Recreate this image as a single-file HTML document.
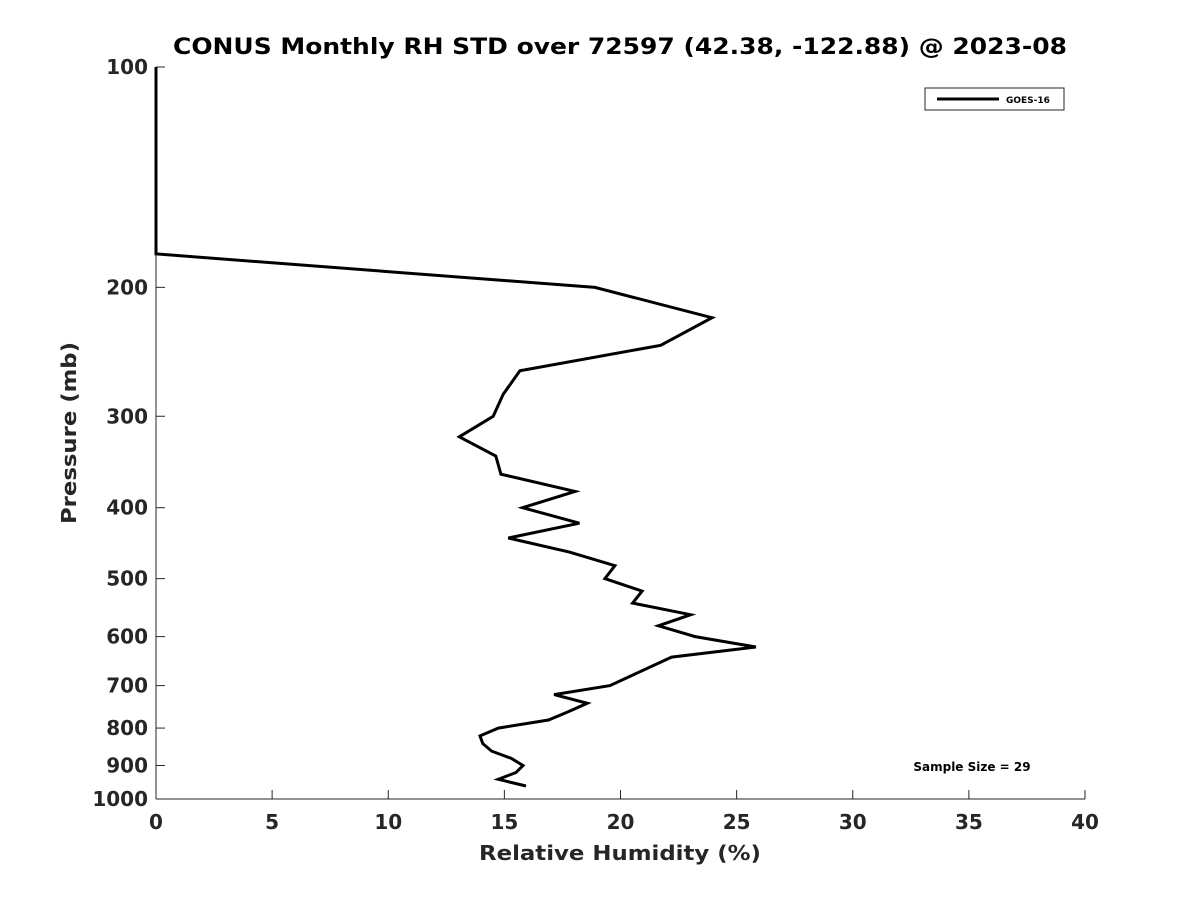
<!DOCTYPE html>
<html><head><meta charset="utf-8"><style>
html,body{margin:0;padding:0;background:#fff;}
svg{display:block;font-family:"DejaVu Sans","Liberation Sans",sans-serif;}
</style></head><body>
<svg id="chart" width="1200" height="900" viewBox="0 0 1200 900" xmlns="http://www.w3.org/2000/svg">
<rect width="1200" height="900" fill="#fff"/>
<text x="620" y="54" text-anchor="middle" font-size="22" font-weight="bold" fill="#000" textLength="894" lengthAdjust="spacingAndGlyphs">CONUS Monthly RH STD over 72597 (42.38, -122.88) @ 2023-08</text>
<g id="axes"></g>
<g id="series"></g>
<text x="620" y="860" text-anchor="middle" font-size="20" font-weight="bold" fill="#262626" textLength="282" lengthAdjust="spacingAndGlyphs">Relative Humidity (%)</text>
<text transform="translate(76,433) rotate(-90)" text-anchor="middle" font-size="20" font-weight="bold" fill="#262626" textLength="182" lengthAdjust="spacingAndGlyphs">Pressure (mb)</text>
<g>
<rect x="925" y="88" width="139" height="22" fill="#fff" stroke="#262626" stroke-width="1"/>
<line x1="937" y1="99" x2="999" y2="99" stroke="#000" stroke-width="3"/>
<text x="1006" y="103" font-size="9" font-weight="bold" fill="#000">GOES-16</text>
</g>
<text x="972" y="771" text-anchor="middle" font-size="12" font-weight="bold" fill="#000">Sample Size = 29</text>
</svg>
<script>
const xTicks = [0,5,10,15,20,25,30,35,40];
const yTicks = [100,200,300,400,500,600,700,800,900,1000];
const pressure = [100,180,200,220,240,260,280,300,320,340,360,380,400,420,440,460,480,500,520,540,560,580,600,620,640,700,720,740,760,780,800,820,840,860,880,900,920,940,960];
const rhStd = [0,0,18.9,23.94,21.73,15.67,14.95,14.52,13.06,14.63,14.85,18.04,15.79,18.23,15.17,17.8,19.76,19.33,20.93,20.52,23.02,21.63,23.21,25.83,22.2,19.55,17.14,18.57,17.75,16.9,14.74,13.95,14.07,14.45,15.3,15.8,15.5,14.74,15.93];

const X0=156,X1=1085,Y0=67,Y1=799,XMIN=0,XMAX=40,PMIN=100,PMAX=1000;
const xs=v=>X0+(v-XMIN)/(XMAX-XMIN)*(X1-X0);
const ys=p=>Y0+(Math.log10(p)-Math.log10(PMIN))/(Math.log10(PMAX)-Math.log10(PMIN))*(Y1-Y0);
const NS='http://www.w3.org/2000/svg';
const axes=document.getElementById('axes');
function mk(tag,attrs,parent){const e=document.createElementNS(NS,tag);for(const k in attrs)e.setAttribute(k,attrs[k]);parent.appendChild(e);return e;}

const xAxis=mk('line',{x1:X0,y1:Y1,x2:X1,y2:Y1,stroke:'#262626','stroke-width':1},axes);


const yAxis=mk('line',{x1:X0,y1:Y0,x2:X0,y2:Y1,stroke:'#262626','stroke-width':1},axes);



xTicks.forEach(v=>{
  const x=xs(v);
  const t=mk('line',{x1:x,y1:Y1,x2:x,y2:Y1-9,stroke:'#262626','stroke-width':1},axes);
  
  
  const l=mk('text',{x:x,y:Y1+30,'text-anchor':'middle','font-size':20,'font-weight':'bold',fill:'#262626'},axes);
  l.textContent=v;
  
  
});
yTicks.forEach(p=>{
  const y=ys(p);
  const t=mk('line',{x1:X0,y1:y,x2:X0+9,y2:y,stroke:'#262626','stroke-width':1},axes);
  
  
  const l=mk('text',{x:X0-8,y:y+7,'text-anchor':'end','font-size':20,'font-weight':'bold',fill:'#262626'},axes);
  l.textContent=p;
  
  
});

const pts=pressure.map((p,i)=>xs(rhStd[i]).toFixed(1)+','+ys(p).toFixed(1)).join(' ');
const line=mk('polyline',{points:pts,fill:'none',stroke:'#000','stroke-width':3,'stroke-linejoin':'miter'},document.getElementById('series'));


</script>
</body></html>
